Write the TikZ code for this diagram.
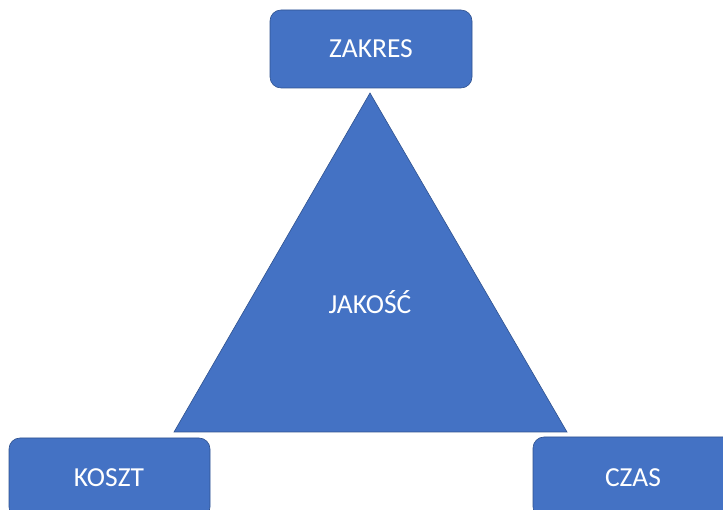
\documentclass[tikz,border=0pt]{standalone}
\usepackage{fontspec}
\setmainfont{Carlito}
\definecolor{boxfill}{HTML}{4472C4}
\definecolor{boxline}{HTML}{2F528F}
\begin{document}
\begin{tikzpicture}[x=1pt,y=1pt,
  shapefill/.style={fill=boxfill,draw=boxline,line width=0.6pt},
  roundbox/.style={shapefill,rounded corners=11pt},
  label/.style={text=white,font=\fontsize{27.5}{33}\selectfont}]
  \useasboundingbox (0,0) rectangle (723,510);
  \clip (0,0) rectangle (723,510);
  % central triangle
  \coordinate (apex) at (370,417);
  \coordinate (baseL) at (174,78);
  \coordinate (baseR) at (567,78);
  \draw[shapefill] (apex) -- (baseR) -- (baseL) -- cycle;
  \node[label] (jakosc) at (370,208) {JAKOŚĆ};
  % corner boxes
  \draw[roundbox] (270,422) rectangle (472,500);
  \node[label] (zakres) at (371,461) {ZAKRES};
  \draw[roundbox] (9,-8) rectangle (210,72);
  \node[label] (koszt) at (109,32) {KOSZT};
  \draw[roundbox] (533,-8) rectangle (740,73);
  \node[label] (czas) at (633,32) {CZAS};
\end{tikzpicture}
\end{document}
